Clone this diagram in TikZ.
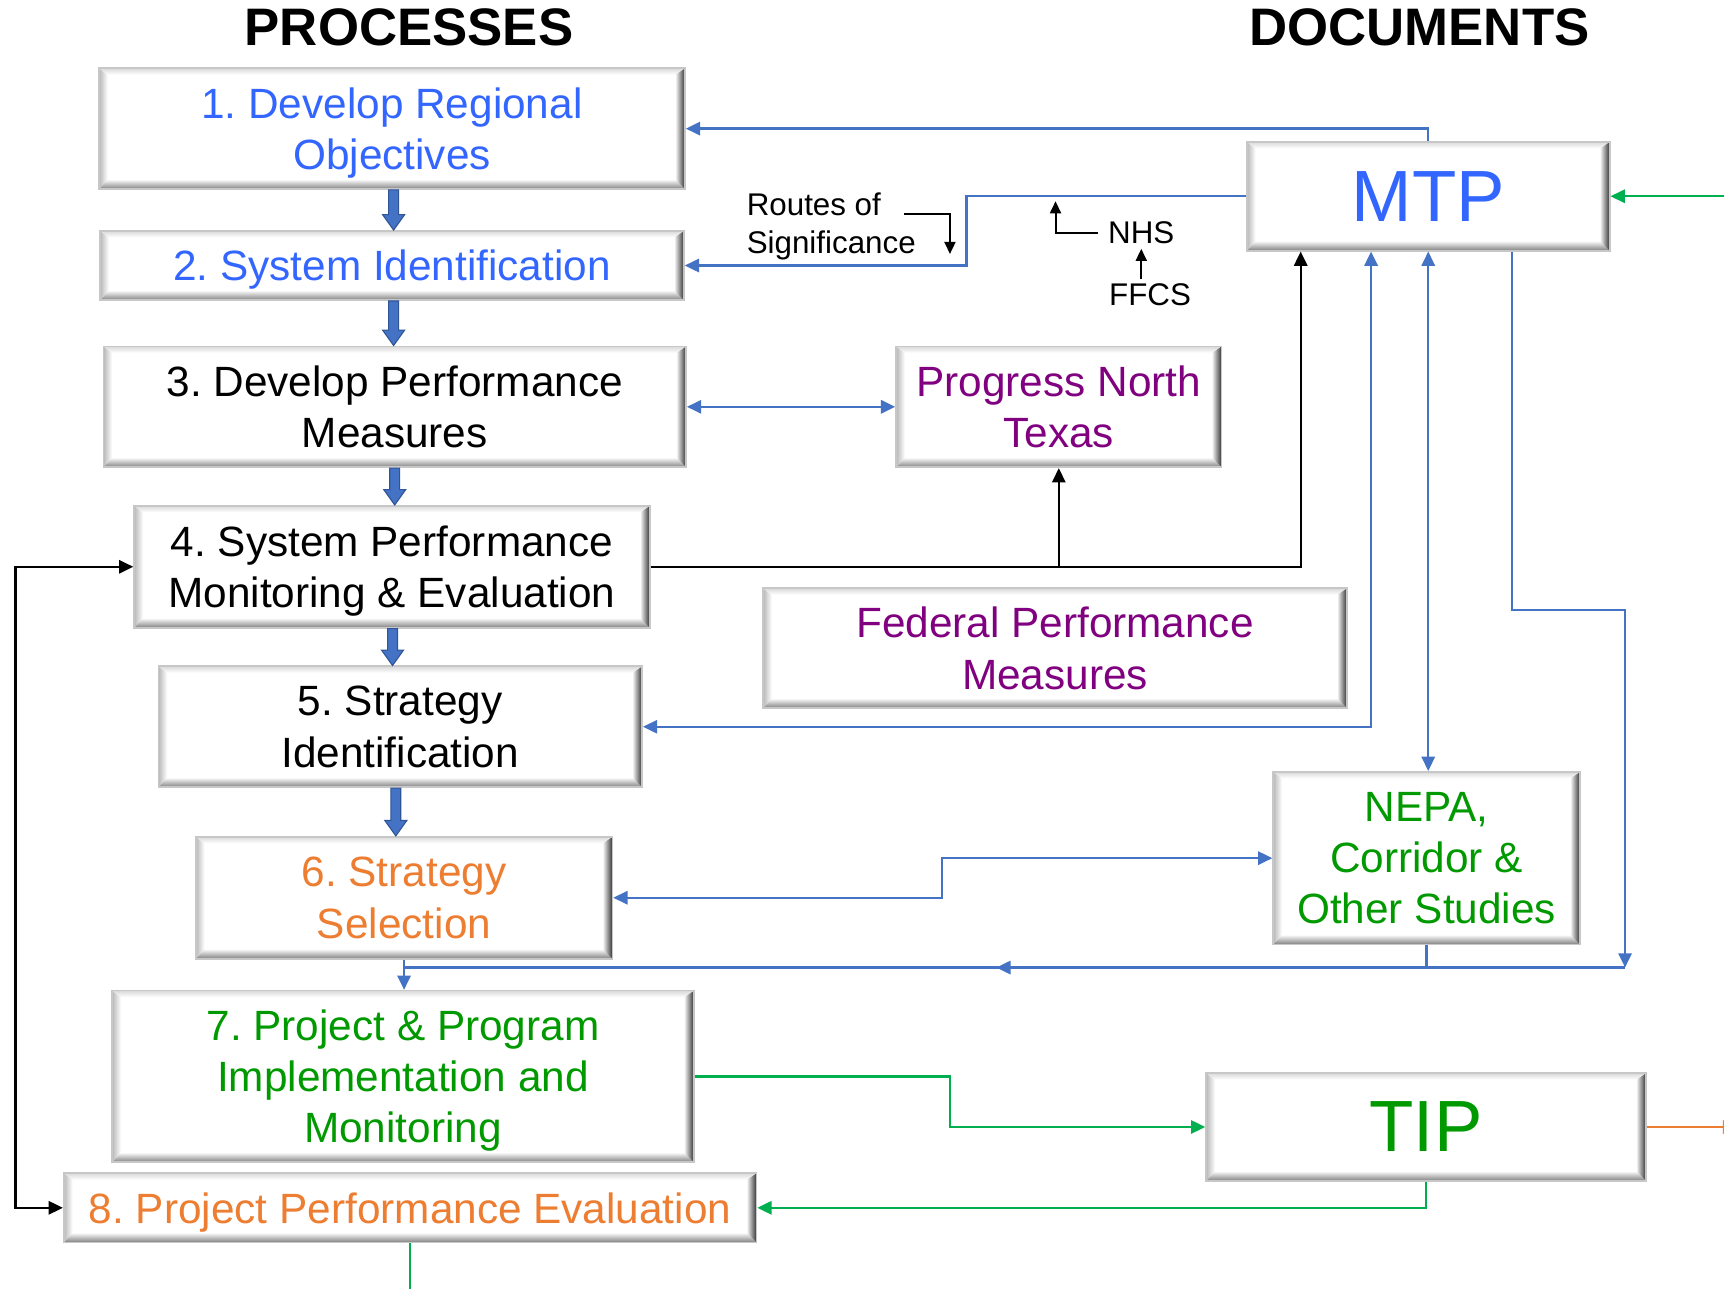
\documentclass[tikz,border=0pt]{standalone}
\usepackage{fontspec}
\setmainfont{Liberation Sans}
\frenchspacing
\usetikzlibrary{arrows.meta,calc,decorations.markings}
\definecolor{tblue}{HTML}{3366FF}
\definecolor{lblue}{HTML}{4472C4}
\definecolor{dblue}{HTML}{2F5597}
\definecolor{tpurple}{HTML}{800080}
\definecolor{tgreen}{HTML}{009900}
\definecolor{lgreen}{HTML}{00B050}
\definecolor{torange}{HTML}{ED7D31}
\newcommand\boxfont{\fontsize{38.5}{46.5}\selectfont}
\newcommand\bigfont{\fontsize{66}{70}\selectfont}
\newcommand\smallfont{\fontsize{28.5}{34}\selectfont}
\newcommand\titlefont{\fontsize{48}{52}\selectfont\bfseries}
\tikzset{
  bevel/.style={
    fill=white, draw=black!22, line width=1.5pt,
    path picture={
      \coordinate (ppsw) at (path picture bounding box.south west);
      \coordinate (ppne) at (path picture bounding box.north east);
      \coordinate (ppse) at (path picture bounding box.south east);
      \coordinate (ppnw) at (path picture bounding box.north west);
      \shade[top color=white, bottom color=black!50]
        (ppsw) -- ([shift={(8pt,9pt)}]ppsw) -- ([shift={(-9pt,9pt)}]ppse) -- (ppse) -- cycle;
      \shade[left color=white, right color=black!80]
        (ppse) -- ([shift={(-9pt,9pt)}]ppse) -- ([shift={(-9pt,-6pt)}]ppne) -- (ppne) -- cycle;
      \shade[left color=black!28, right color=white]
        (ppsw) -- ([shift={(8pt,9pt)}]ppsw) -- ([shift={(8pt,-6pt)}]ppnw) -- (ppnw) -- cycle;
      \shade[top color=black!15, bottom color=white]
        (ppnw) -- ([shift={(8pt,-6pt)}]ppnw) -- ([shift={(-9pt,-6pt)}]ppne) -- (ppne) -- cycle;
    }},
  pbox/.style={bevel, inner sep=0pt, align=center, font=\boxfont, text depth=-4pt},
  docbig/.style={font=\bigfont, text depth=0pt},
  sz/.style 2 args={minimum width=#1pt, minimum height=#2pt},
  bl/.style={color=lblue, line width=2.2pt},
  blk/.style={color=black, line width=2.2pt},
  gr/.style={color=lgreen, line width=2.2pt},
  org/.style={color=torange, line width=2.2pt},
  arr/.style={-{Triangle[length=13pt,width=12pt]}},
  darr/.style={{Triangle[length=13pt,width=12pt]}-{Triangle[length=13pt,width=12pt]}},
  sarr/.style={-{Triangle[length=11pt,width=10pt]}},
  midarr/.style={postaction={decorate}, decoration={markings,
     mark=at position #1 with {\arrow{Triangle[length=13pt,width=12pt]}}}},
  lbl/.style={inner sep=0pt, font=\smallfont}
}
% block arrow: #1 x offset, #2 upper node, #3 lower node
\newcommand\blkarrow[3]{\path[fill=lblue, draw=dblue, line width=1pt] let \p1=(#2.south), \p2=(#3.north) in
  (\x1+#1pt-4.5pt,\y1) -- (\x1+#1pt+4.5pt,\y1) -- (\x1+#1pt+4.5pt,\y2+14pt) -- (\x1+#1pt+10pt,\y2+14pt) -- (\x1+#1pt,\y2) -- (\x1+#1pt-10pt,\y2+14pt) -- (\x1+#1pt-4.5pt,\y2+14pt) -- cycle;}
\begin{document}
\begin{tikzpicture}[x=1pt,y=-1pt]
\useasboundingbox (0,0) rectangle (1568,1172);
\clip (0,0) rectangle (1568,1172);
\fill[white] (0,0) rectangle (1568,1172);

% titles
\node[inner sep=0pt, font=\titlefont] (tproc) at (372,25) {PROCESSES};
\node[inner sep=0pt, font=\titlefont] (tdoc) at (1291,25) {DOCUMENTS};

% process boxes
\node[pbox, sz={533}{110}, text=tblue] (b1) at (356.5,117) {1. Develop Regional\\Objectives};
\node[pbox, sz={531}{63}, text=tblue] (b2) at (356.5,241.5) {2. System Identification};
\node[pbox, sz={530}{110}] (b3) at (359,370) {3. Develop Performance\\Measures};
\node[pbox, sz={469}{111}] (b4) at (356.5,515.5) {4. System Performance\\Monitoring \& Evaluation};
\node[pbox, sz={440}{110}] (b5) at (364,661) {5. Strategy\\Identification};
\node[pbox, sz={379}{111}, text=torange] (b6) at (367.5,816.5) {6. Strategy\\Selection};
\node[pbox, sz={529}{156}, text=tgreen] (b7) at (366.5,979) {7. Project \& Program\\Implementation and\\Monitoring};
\node[pbox, sz={630}{63}, text=torange] (b8) at (373,1098.5) {8. Project Performance Evaluation};

% document boxes
\node[pbox, docbig, sz={330}{99}, text=tblue] (mtp) at (1299,178.5) {MTP};
\node[pbox, sz={296}{110}, text=tpurple] (pnt) at (963,370) {Progress North\\Texas};
\node[pbox, sz={531}{109}, text=tpurple] (fpm) at (959.5,589.5) {Federal Performance\\Measures};
\node[pbox, sz={279}{157}, text=tgreen] (nepa) at (1297.5,780.5) {NEPA,\\Corridor \&\\Other Studies};
\node[pbox, docbig, sz={400}{98}, text=tgreen] (tip) at (1297,1025) {TIP};

% labels
\node[lbl, anchor=west, align=left] (ros) at (679,206) {Routes of\\Significance};
\node[lbl, inner xsep=9pt, inner ysep=4pt] (nhs) at (1038,212) {NHS};
\node[lbl, inner ysep=4pt] (ffcs) at (1046,268) {FFCS};

% block arrows between processes
\blkarrow{1.5}{b1}{b2}
\blkarrow{1.5}{b2}{b3}
\blkarrow{0}{b3}{b4}
\blkarrow{0.5}{b4}{b5}
\blkarrow{-4}{b5}{b6}

% MTP to processes
\draw[bl, arr] (mtp.north) |- (b1.east);
\draw[bl, arr] (mtp.west) -| (879,210) |- (b2.east);
\coordinate (rosa) at (822,195);
\coordinate (rosb) at (864,231);
\draw[blk, sarr, line width=1.8pt] (rosa) -| (rosb);
\coordinate (nhsa) at (960,183);
\draw[blk, sarr, line width=1.8pt] (nhs.west) -| (nhsa);
\draw[blk, sarr, line width=1.8pt] (nhs.south |- ffcs.north) -- (nhs.south);

% 3 <-> PNT
\draw[bl, darr] (b3.east) -- (pnt.west);

% 4 -> MTP and PNT
\draw[blk, arr] (b4.east) -| ([xshift=-116pt]mtp.south);
\draw[blk, arr] (pnt.south |- b4.east) -- (pnt.south);

% MTP <-> 5
\draw[bl, darr] ([xshift=-52pt]mtp.south) |- (b5.east);
% MTP <-> NEPA
\draw[bl, darr] (mtp.south) -- (mtp.south |- nepa.north);
% MTP -> bottom bus
\coordinate (j) at (1478,880);
\draw[bl, arr] ([xshift=76pt]mtp.south) |- (1478,555) -- (j);
\draw[bl, midarr=0.515] (j) -- (b6.south |- j);
\draw[bl] (nepa.south) -- (nepa.south |- j);
\draw[bl, arr] (b6.south) -- (b6.south |- b7.north);

% 6 <-> NEPA
\draw[bl, darr] (b6.east) -| (857,798) |- (nepa.west);

% 7 -> TIP, TIP -> 8
\draw[gr, arr] (b7.east) -| (864,1000) |- (tip.west);
\draw[gr, arr] (tip.south) |- (b8.east);

% off-page connectors
\coordinate (tipout) at (1580,1025);
\draw[org, arr] (tip.east) -- (tipout);
\coordinate (mtpin) at (1580,178.5);
\draw[gr, arr] (mtpin) -- (mtp.east);
\coordinate (b8out) at (373,1180);
\draw[gr] (b8.south) -- (b8out);

% feedback loop 8 <-> 4
\draw[blk, darr] (b4.west) -| (14,800) |- (b8.west);
\end{tikzpicture}
\end{document}
